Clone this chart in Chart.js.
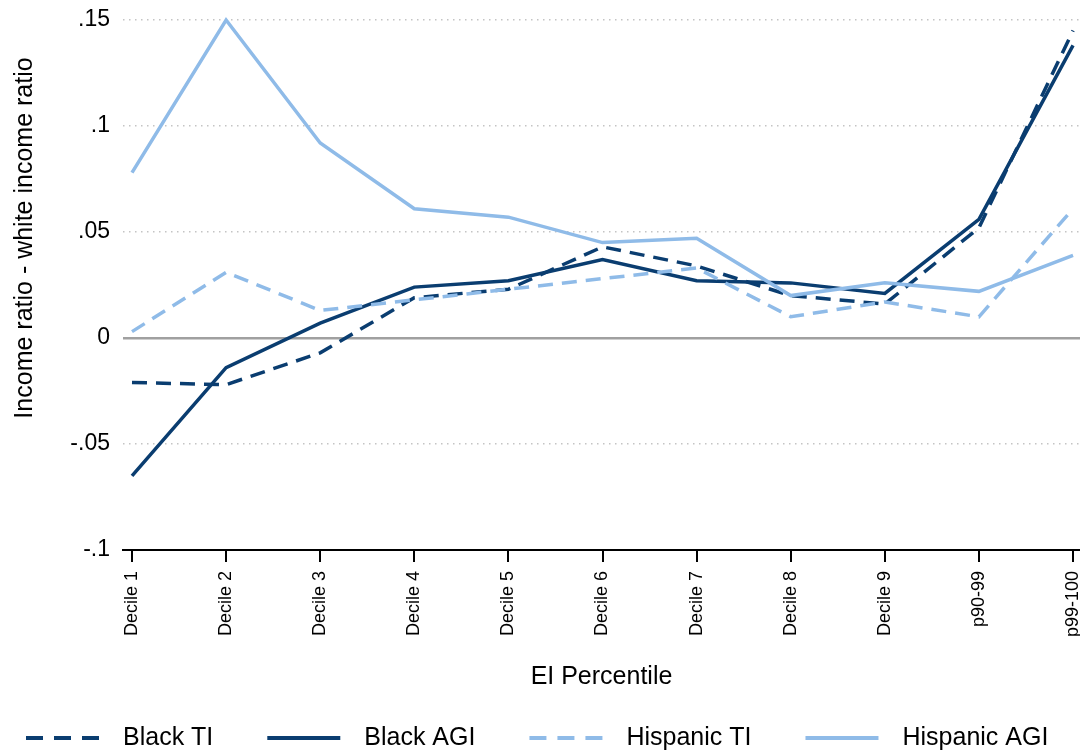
<!DOCTYPE html>
<html>
<head>
<meta charset="utf-8">
<script src="https://cdn.jsdelivr.net/npm/chart.js@4.4.1/dist/chart.umd.min.js"></script>
<style>
  html, body { margin: 0; padding: 0; background: #ffffff; }
  #wrap { width: 1080px; height: 751px; }
</style>
</head>
<body>
<div id="wrap"><canvas id="chart" width="1080" height="751"></canvas></div>
<script>
// EI percentile groups along the horizontal axis
const categories = ['Decile 1', 'Decile 2', 'Decile 3', 'Decile 4', 'Decile 5', 'Decile 6',
                    'Decile 7', 'Decile 8', 'Decile 9', 'p90-99', 'p99-100'];

// Income ratio minus white income ratio, per group
const blackTI     = [-0.021, -0.022, -0.007, 0.019, 0.023, 0.043, 0.034, 0.020, 0.016, 0.052, 0.145];
const blackAGI    = [-0.065, -0.014,  0.007, 0.024, 0.027, 0.037, 0.027, 0.026, 0.021, 0.056, 0.138];
const hispanicTI  = [ 0.003,  0.031,  0.013, 0.018, 0.023, 0.028, 0.033, 0.010, 0.017, 0.010, 0.061];
const hispanicAGI = [ 0.078,  0.150,  0.092, 0.061, 0.057, 0.045, 0.047, 0.020, 0.026, 0.022, 0.039];

const yTickValues = [-0.1, -0.05, 0, 0.05, 0.1, 0.15];
const yTickLabels = ['-.1', '-.05', '0', '.05', '.1', '.15'];

const yTitle = 'Income ratio - white income ratio';
const xTitle = 'EI Percentile';

const DARK = '#0a3d70';
const LIGHT = '#8fbbe8';
const FONT = "'Liberation Sans', Arial, Helvetica, sans-serif";

const seriesDefs = [
  { label: 'Black TI',     values: blackTI,     color: DARK,  dashed: true  },
  { label: 'Black AGI',    values: blackAGI,    color: DARK,  dashed: false },
  { label: 'Hispanic TI',  values: hispanicTI,  color: LIGHT, dashed: true  },
  { label: 'Hispanic AGI', values: hispanicAGI, color: LIGHT, dashed: false }
];

const toPoints = vals => vals.map((v, i) => ({ x: i, y: v }));

const datasets = seriesDefs.map((s, k) => ({
  label: s.label,
  data: toPoints(s.values),
  borderColor: s.color,
  backgroundColor: s.color,
  borderWidth: 3.5,
  borderDash: s.dashed ? [15, 9] : [],
  borderJoinStyle: 'miter',
  borderCapStyle: 'butt',
  pointRadius: 0,
  tension: 0,
  fill: false,
  clip: 10,
  order: seriesDefs.length - k
}));

// Rotated y-axis title
const yTitlePlugin = {
  id: 'yTitle',
  afterDraw(chart) {
    const ctx = chart.ctx;
    ctx.save();
    ctx.translate(32, 238);
    ctx.rotate(-Math.PI / 2);
    ctx.font = '25px ' + FONT;
    ctx.fillStyle = '#000';
    ctx.textAlign = 'center';
    ctx.textBaseline = 'alphabetic';
    ctx.fillText(yTitle, 0, 0);
    ctx.restore();
  }
};

// One-row legend along the bottom
const bottomLegend = {
  id: 'bottomLegend',
  afterDraw(chart) {
    const ctx = chart.ctx;
    const y = 738;
    let x = 26;
    ctx.save();
    ctx.font = '25px ' + FONT;
    ctx.textBaseline = 'middle';
    ctx.textAlign = 'left';
    seriesDefs.forEach(s => {
      ctx.strokeStyle = s.color;
      ctx.lineWidth = 4;
      ctx.lineCap = 'butt';
      ctx.setLineDash(s.dashed ? [17, 11] : []);
      ctx.beginPath();
      ctx.moveTo(x, y);
      ctx.lineTo(x + 73, y);
      ctx.stroke();
      x += 73 + 24;
      ctx.setLineDash([]);
      ctx.fillStyle = '#000';
      ctx.fillText(s.label, x, y);
      x += ctx.measureText(s.label).width + 54;
    });
    ctx.restore();
  }
};

new Chart(document.getElementById('chart'), {
  type: 'line',
  data: { datasets },
  plugins: [yTitlePlugin, bottomLegend],
  options: {
    responsive: false,
    animation: false,
    layout: { padding: { top: 20, right: 0, bottom: 59, left: 0 } },
    plugins: {
      legend: { display: false },
      tooltip: { enabled: false }
    },
    scales: {
      x: {
        type: 'linear',
        min: -0.0956,
        max: 10.074,
        afterBuildTicks: s => { s.ticks = categories.map((_, i) => ({ value: i })); },
        afterFit: s => { s.height = 142; s.paddingLeft = 0; s.paddingRight = 0; },
        ticks: {
          autoSkip: false,
          minRotation: 90,
          maxRotation: 90,
          padding: 9,
          color: '#000',
          font: { size: 18, family: FONT },
          callback: v => (categories[v] !== undefined ? categories[v] : '')
        },
        grid: { drawOnChartArea: false, drawTicks: true, tickLength: 12, color: '#000', lineWidth: 2 },
        border: { display: true, color: '#000', width: 2 },
        title: {
          display: true,
          text: xTitle,
          color: '#000',
          font: { size: 25, family: FONT },
          padding: { top: 0, bottom: 0 }
        }
      },
      y: {
        min: -0.1,
        max: 0.15,
        afterBuildTicks: s => { s.ticks = yTickValues.map(v => ({ value: v })); },
        afterFit: s => { s.width = 123; s.paddingTop = 0; s.paddingBottom = 0; },
        ticks: {
          padding: 13,
          color: '#000',
          font: { size: 23, family: FONT },
          callback: (v, i) => yTickLabels[i]
        },
        grid: {
          drawTicks: false,
          color: c => (c.tick && c.tick.value === 0) ? '#a0a0a0'
                    : (c.tick && c.tick.value === -0.1) ? 'rgba(0,0,0,0)' : '#c4c4c4',
          lineWidth: c => (c.tick && c.tick.value === 0) ? 2.5 : 1.5
        },
        border: {
          display: false,
          dash: c => (c.tick && c.tick.value === 0) ? [] : [1.5, 4.5]
        }
      }
    }
  }
});
</script>
</body>
</html>
